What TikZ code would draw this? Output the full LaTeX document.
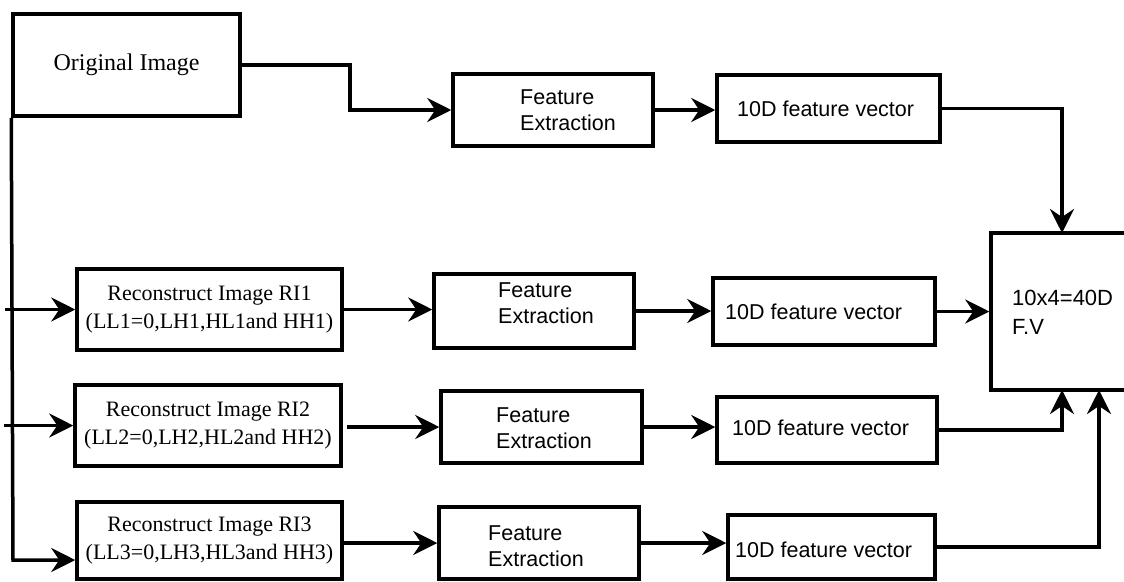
\documentclass[tikz,border=0pt]{standalone}
\usepackage{fontspec}
\setmainfont{Liberation Serif}
\newfontfamily\sansf{Liberation Sans}
\usetikzlibrary{arrows.meta,calc}
\begin{document}
\begin{tikzpicture}[x=1pt,y=-1pt,
  box/.style={draw, line width=3.5pt, inner sep=0pt},
  ribox/.style={box, align=center, font=\fontsize{22}{28}\selectfont},
  lbl/.style={anchor=west, inner sep=0pt, align=left, font=\sansf\fontsize{21.5}{26}\selectfont},
  arr/.style={-{Stealth[length=24pt,width=24pt,inset=8pt]}, line width=3.5pt},
  ln/.style={line width=3.5pt}]
\useasboundingbox (0,0) rectangle (1124,581);
\clip (0,0) rectangle (1124,581);
\fill[white] (0,0) rectangle (1124,581);
% boxes
\node[box, minimum width=227pt, minimum height=102pt, font=\fontsize{24}{28}\selectfont] (orig) at (126.5,65) {Original Image};
\node[box, minimum width=200pt, minimum height=72pt] (FE0) at (553,110) {};
\node[box, minimum width=223pt, minimum height=67pt] (FV0) at (828.5,108.5) {};
\node[box, minimum width=169pt, minimum height=157pt] (big) at (1075.5,311.5) {};
\node[ribox, minimum width=265pt, minimum height=81pt] (RI1) at (209.5,309.5) {Reconstruct Image RI1\\(LL1=0,LH1,HL1and HH1)};
\node[box, minimum width=200pt, minimum height=74pt] (FE1) at (534,311) {};
\node[box, minimum width=222pt, minimum height=67pt] (FV1) at (824,311.5) {};
\node[ribox, minimum width=266pt, minimum height=81pt] (RI2) at (208,425.5) {Reconstruct Image RI2\\(LL2=0,LH2,HL2and HH2)};
\node[box, minimum width=201pt, minimum height=72pt] (FE2) at (541.5,427) {};
\node[box, minimum width=220pt, minimum height=66pt] (FV2) at (827,430) {};
\node[ribox, minimum width=265pt, minimum height=77pt] (RI3) at (209.5,540.5) {Reconstruct Image RI3\\(LL3=0,LH3,HL3and HH3)};
\node[box, minimum width=200pt, minimum height=72pt] (FE3) at (539,543) {};
\node[box, minimum width=207pt, minimum height=64pt] (FV3) at (831.5,547) {};
% labels
\node[lbl] (tFE0) at (520,110) {Feature\\Extraction};
\node[lbl] (tFE1) at (498,303) {Feature\\Extraction};
\node[lbl] (tFE2) at (496,428) {Feature\\Extraction};
\node[lbl] (tFE3) at (488,546) {Feature\\Extraction};
\node[lbl] (tFV0) at (737,109) {10D feature vector};
\node[lbl] (tFV1) at (725,312) {10D feature vector};
\node[lbl] (tFV2) at (732,428) {10D feature vector};
\node[lbl] (tFV3) at (735,550) {10D feature vector};
\node[lbl, font=\sansf\fontsize{22}{29}\selectfont] (tbig) at (1012,312.5) {10x4=40D\\F.V};
% helper coordinates
\coordinate (c1) at (1062,233);
\coordinate (c2) at (1062,390);
\coordinate (c3) at (1099,390);
\coordinate (b1) at (5,309.5);
\coordinate (b2) at (4,425.5);
\coordinate (tr) at (13,560);
% connectors
\draw[arr] (orig.east) -- ++(108,0) |- (FE0.west);
\draw[arr] (FE0.east) -- (FE0.east -| FV0.west);
\draw[arr] (FV0.east) -| (c1);
\draw[arr] (orig.south west) -- (tr) -- (tr -| RI3.west);
\draw[arr] (b1) -- (RI1.west);
\draw[arr] (b2) -- (RI2.west);
\draw[arr] (RI1.east) -- (RI1.east -| FE1.west);
\draw[arr] (FE1.east) -- (FE1.east -| FV1.west);
\draw[arr] (FV1.east) -- (FV1.east -| big.west);
\draw[arr] ($(RI2.east)+(4,1.5)$) -- (FE2.west);
\draw[arr] (FE2.east) -- (FE2.east -| FV2.west);
\draw[arr] (FV2.east) -| (c2);
\draw[arr] (FE3.west -| RI3.east) -- (FE3.west);
\draw[arr] (FE3.east) -- (FE3.east -| FV3.west);
\draw[arr] (FV3.east) -| (c3);
\end{tikzpicture}
\end{document}
